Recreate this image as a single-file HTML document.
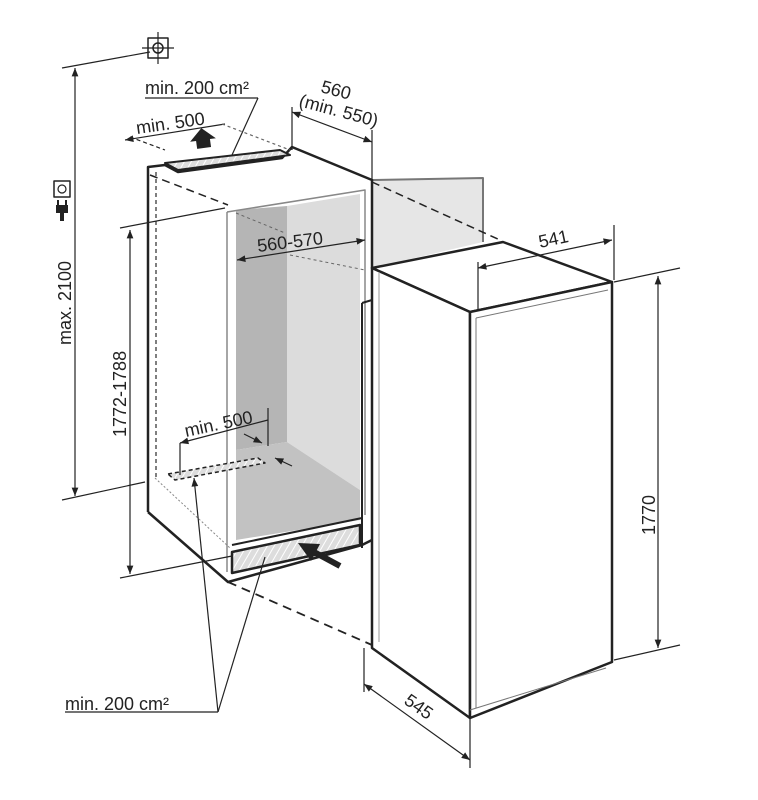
<!DOCTYPE html>
<html><head><meta charset="utf-8"><style>
html,body{margin:0;padding:0;background:#fff;width:758px;height:800px;overflow:hidden}
svg{display:block}
text{font-family:"Liberation Sans",sans-serif;font-size:18px;fill:#222}
</style></head><body>
<svg width="758" height="800" viewBox="0 0 758 800" xmlns="http://www.w3.org/2000/svg">
<defs>
<marker id="a" viewBox="0 0 10 10" refX="10" refY="5" markerWidth="9" markerHeight="7" orient="auto-start-reverse"><path d="M0,1 L10,5 L0,9 Z" fill="#222"/></marker>
<pattern id="h" width="6" height="6" patternUnits="userSpaceOnUse" patternTransform="rotate(30)"><rect width="6" height="6" fill="#ddd"/><line x1="0" y1="0" x2="0" y2="6" stroke="#fff" stroke-width="2"/></pattern>
</defs>
<g stroke="#222" fill="none" stroke-linejoin="round">
<polygon points="372,180 483,178 483,242 372,268" fill="#e6e6e6" stroke="none"/>
<polyline points="372,180 483,178 483,242" stroke="#777" stroke-width="2"/>
<polygon points="236,210 287,206 287,442 236,450" fill="#b5b5b5" stroke="none"/>
<polygon points="287,206 360,194 360,490 287,442" fill="#dcdcdc" stroke="none"/>
<polygon points="236,450 287,442 360,490 360,520 236,540" fill="#c2c2c2" stroke="none"/>
<polyline points="227,212 365,190 365,515" stroke="#888" stroke-width="1.5"/>
<line x1="227" y1="212" x2="227" y2="572" stroke="#888" stroke-width="1.5"/>
<polygon points="232,552 360,525 360,545 232,573" fill="url(#h)" stroke="#222" stroke-width="2.5"/>
<line x1="232" y1="545" x2="362" y2="518" stroke="#222" stroke-width="2"/>
<polyline points="148,512 148,167 165,165 178,172 282,158 292,147 372,180 372,268" stroke-width="2.5"/>
<polygon points="165,163 280,150 290,155 178,170" fill="url(#h)" stroke-width="2"/>
<polyline points="148,512 228,582 362,545 372,540" stroke-width="2.5"/>
<line x1="372" y1="300" x2="362" y2="303" stroke-width="2"/>
<line x1="362" y1="303" x2="362" y2="548" stroke-width="2"/>
<line x1="156" y1="172" x2="156" y2="478" stroke-dasharray="4,3" stroke="#555" stroke-width="1.5"/>
<line x1="150" y1="175" x2="228" y2="205" stroke-dasharray="8,5" stroke-width="1.5"/>
<line x1="372" y1="182" x2="500" y2="240" stroke-dasharray="8,5" stroke-width="1.5"/>
<line x1="290" y1="255" x2="365" y2="270" stroke-dasharray="3,3" stroke="#666"/>
<line x1="236" y1="213" x2="285" y2="233" stroke-dasharray="3,3" stroke="#666"/>
<polygon points="168,474 258,458 265,463 175,480" fill="url(#h)" stroke-dasharray="4,3" stroke-width="1.5"/>
<line x1="155" y1="478" x2="230" y2="548" stroke="#888" stroke-dasharray="2,2"/>
<line x1="228" y1="582" x2="372" y2="645" stroke-dasharray="9,6" stroke-width="1.8"/>
<polygon points="372,268 503,242 612,282 470,312" fill="#fff" stroke-width="2.5"/>
<polygon points="372,268 470,312 470,718 372,648" fill="#fff" stroke-width="2.5"/>
<polygon points="470,312 612,282 612,662 470,718" fill="#fff" stroke-width="2.5"/>
<polyline points="476,318 608,290" stroke="#777"/>
<line x1="476" y1="318" x2="476" y2="708" stroke="#777"/>
<line x1="379" y1="272" x2="379" y2="642" stroke="#999"/>
<polyline points="470,710 606,668" stroke="#777"/>
<polygon points="196,148 196,140 190,140 203,128 216,140 210,140 210,148" fill="#222" stroke="none" transform="rotate(-8 203 140)"/>
<line x1="340" y1="566" x2="314" y2="552" stroke="#222" stroke-width="6"/>
<polygon points="298,543 320,544 311,561" fill="#222" stroke="none"/>
<g stroke-width="1.2">
<line x1="62" y1="68" x2="150" y2="52"/>
<line x1="75" y1="68" x2="75" y2="496" marker-start="url(#a)" marker-end="url(#a)"/>
<line x1="62" y1="500" x2="145" y2="482"/>
<line x1="120" y1="228" x2="225" y2="208"/>
<line x1="130" y1="230" x2="130" y2="574" marker-start="url(#a)" marker-end="url(#a)"/>
<line x1="120" y1="578" x2="232" y2="556"/>
<line x1="125" y1="140" x2="225" y2="124" marker-start="url(#a)"/>
<line x1="130" y1="137" x2="165" y2="150" stroke-dasharray="4,3"/>
<line x1="222" y1="124" x2="290" y2="150" stroke-dasharray="3,3" stroke="#666"/>
<line x1="145" y1="98" x2="258" y2="98"/>
<line x1="258" y1="98" x2="232" y2="155"/>
<line x1="292" y1="107" x2="292" y2="150"/>
<line x1="372" y1="130" x2="372" y2="180"/>
<line x1="292" y1="112" x2="372" y2="142" marker-start="url(#a)" marker-end="url(#a)"/>
<line x1="237" y1="260" x2="365" y2="240" marker-start="url(#a)" marker-end="url(#a)"/>
<line x1="180" y1="443" x2="268" y2="420" marker-start="url(#a)"/>
<line x1="180" y1="443" x2="180" y2="475"/>
<line x1="268" y1="408" x2="268" y2="446"/>
<line x1="244" y1="434" x2="262" y2="443" marker-end="url(#a)"/>
<line x1="292" y1="466" x2="275" y2="458" marker-end="url(#a)"/>
<line x1="65" y1="712" x2="218" y2="712"/>
<line x1="218" y1="712" x2="194" y2="478" marker-end="url(#a)"/>
<line x1="218" y1="712" x2="265" y2="557"/>
<line x1="478" y1="262" x2="478" y2="310"/>
<line x1="614" y1="225" x2="614" y2="280"/>
<line x1="478" y1="268" x2="612" y2="240" marker-start="url(#a)" marker-end="url(#a)"/>
<line x1="614" y1="282" x2="680" y2="268"/>
<line x1="614" y1="660" x2="680" y2="645"/>
<line x1="658" y1="276" x2="658" y2="648" marker-start="url(#a)" marker-end="url(#a)"/>
<line x1="364" y1="648" x2="364" y2="692"/>
<line x1="470" y1="718" x2="470" y2="768"/>
<line x1="364" y1="684" x2="470" y2="760" marker-start="url(#a)" marker-end="url(#a)"/>
</g>
<rect x="148" y="38" width="20" height="20" stroke-width="1.5"/>
<circle cx="158" cy="48" r="5" stroke-width="1.5"/>
<line x1="158" y1="32" x2="158" y2="64" stroke-width="1.2"/><line x1="142" y1="48" x2="174" y2="48" stroke-width="1.2"/>
<rect x="54" y="181" width="16" height="16" stroke-width="1.5"/>
<circle cx="62" cy="189" r="4" stroke-width="1.2"/>
</g>
<path d="M56,205 h12 v8 h-4 v8 h-4 v-8 h-4 z" fill="#222"/>
<line x1="58" y1="200" x2="58" y2="205" stroke="#222" stroke-width="2"/><line x1="66" y1="200" x2="66" y2="205" stroke="#222" stroke-width="2"/>
<text x="145" y="94">min. 200 cm²</text>
<text x="137" y="134" transform="rotate(-8 137 134)">min. 500</text>
<text x="320" y="92" transform="rotate(15 320 92)">560</text>
<text x="298" y="106" transform="rotate(15 298 106)">(min. 550)</text>
<text x="258" y="252" transform="rotate(-7 258 252)">560-570</text>
<text x="186" y="437" transform="rotate(-12 186 437)">min. 500</text>
<text x="65" y="710">min. 200 cm²</text>
<text x="540" y="248" transform="rotate(-12 540 248)">541</text>
<text x="0" y="0" transform="translate(655 535) rotate(-90)">1770</text>
<text x="403" y="703" transform="rotate(35 403 703)">545</text>
<text x="0" y="0" transform="translate(71 345) rotate(-90)">max. 2100</text>
<text x="0" y="0" transform="translate(126 437) rotate(-90)">1772-1788</text>
</svg>
</body></html>
